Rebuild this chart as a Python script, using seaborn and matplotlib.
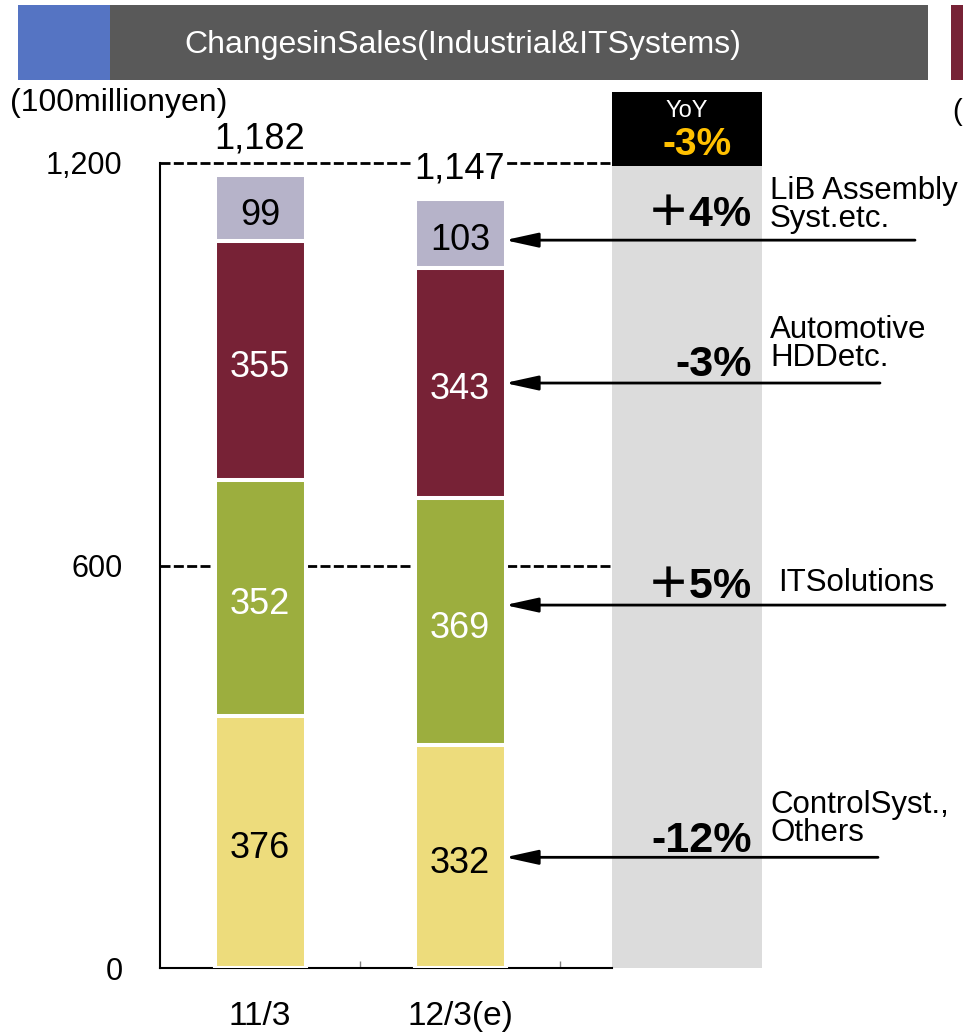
import matplotlib
matplotlib.use("Agg")
import matplotlib.pyplot as plt
from matplotlib.patches import Rectangle
import pandas as pd
import seaborn as sns

# ---- data -------------------------------------------------------------
periods = ["11/3", "12/3(e)"]
control_others = [376, 332]
it_solutions = [352, 369]
automotive_hdd = [355, 343]
lib_assembly = [99, 103]
totals = [1182, 1147]

segment_names = ["ControlSyst.,\nOthers", "ITSolutions",
                 "Automotive\nHDDetc.", "LiB Assembly\nSyst.etc."]
yoy_changes = ["-12%", "＋5%", "-3%", "＋4%"]
yoy_total = "-3%"

ytick_values = [0, 600, 1200]
ytick_labels = ["0", "600", "1,200"]

title = "ChangesinSales(Industrial&ITSystems)"
unit_label = "(100millionyen)"

# ---- styling ----------------------------------------------------------
seg_colors = ["#EDDC7C", "#9CAE3E", "#772236", "#B6B3C9"]
seg_text_colors = ["black", "white", "white", "black"]

sns.set_style("white")
plt.rcParams["font.family"] = ["Liberation Sans", "DejaVu Sans"]
plt.rcParams["text.color"] = "black"
plt.rcParams["xtick.color"] = "black"
plt.rcParams["ytick.color"] = "black"
plt.rcParams["axes.labelcolor"] = "black"

W, H = 963, 1034
fig = plt.figure(figsize=(W / 100, H / 100), dpi=100)

def fx(px):
    return px / W

def fy(py):
    return 1 - py / H

# axes: x from pixel 160 to 960, y from pixel 968 (0) up to pixel 85
ax_left, ax_right, ax_bottom, ax_top = 160, 960, 968, 85
ax = fig.add_axes([fx(ax_left), fy(ax_bottom), fx(ax_right - ax_left),
                   (ax_bottom - ax_top) / H])
px_per_unit = (968 - 163) / 1200.0
ymax = (ax_bottom - ax_top) / px_per_unit

# long-form table for stacked bars (cumulative heights drawn top-down)
layers = [control_others, it_solutions, automotive_hdd, lib_assembly]
rows = []
for k, vals in enumerate(layers):
    for i, p in enumerate(periods):
        lower = sum(layers[j][i] for j in range(k))
        rows.append({"period": p, "segment": k, "value": vals[i],
                     "lower": lower, "upper": lower + vals[i]})
df = pd.DataFrame(rows)

for k in reversed(range(len(layers))):
    sub = df[df["segment"] == k]
    sns.barplot(data=sub, x="period", y="upper", order=periods,
                color=seg_colors[k], saturation=1, width=0.455,
                edgecolor="white", linewidth=2.9, errorbar=None,
                ax=ax, zorder=2)

# segment value labels
for _, r in df.iterrows():
    i = periods.index(r["period"])
    ax.annotate(f"{r['value']:,}", xy=(i, (r["lower"] + r["upper"]) / 2),
                xytext=(0, -5), textcoords="offset points",
                ha="center", va="center", fontsize=26,
                color=seg_text_colors[int(r["segment"])], zorder=5)

# total labels above the bars
for i, t in enumerate(totals):
    ax.annotate(f"{t:,}", xy=(i, t), xytext=(0, 26 if i == 0 else 21),
                textcoords="offset points", ha="center", va="center",
                fontsize=26, zorder=6,
                bbox=dict(boxstyle="square,pad=0.05", fc="white", ec="none"))

ax.set_xlim(-0.5, 3.5)
ax.set_ylim(0, ymax)

# dashed reference lines
ax.hlines(ytick_values[1:], -0.5, 1.76, colors="black", lw=2,
          linestyles=(0, (3.6, 1.2)), zorder=1)

# YoY column
ax.add_patch(Rectangle((1.76, 0), 0.75, 1200, fc="#DCDCDC", ec="none",
                       zorder=0.8))
ax.add_patch(Rectangle((1.76, 1196), 0.75, 110, fc="black", ec="none",
                       zorder=3, clip_on=False))
ax.text(2.135, 1277, "YoY", color="white", fontsize=17, ha="center",
        va="center", zorder=4)
ax.text(2.185, 1227, yoy_total, color="#FFC000", fontsize=28,
        fontweight="bold", ha="center", va="center", zorder=4)

# arrows from the change labels to the forecast bar
arrow_y = [165, 541, 872, 1085]
arrow_start = [3.09, 3.425, 3.1, 3.275]
pct_y = [190, 568, 899, 1122]
name_y = [222, 574, 930, 1137]
name_x = [2.55, 2.59, 2.55, 2.55]
for k in range(4):
    ax.annotate("", xy=(1.225, arrow_y[k]), xytext=(arrow_start[k], arrow_y[k]),
                arrowprops=dict(arrowstyle="-|>,head_length=1.0,head_width=0.22",
                                lw=2, color="black", shrinkA=0, shrinkB=0,
                                mutation_scale=20),
                zorder=4, annotation_clip=False)
    ax.text(2.46, pct_y[k], yoy_changes[k], ha="right", va="center",
            fontsize=31, fontweight="bold", zorder=5,
            family=["Liberation Sans", "Noto Sans CJK JP"])
    ax.text(name_x[k], name_y[k], segment_names[k], ha="left", va="center",
            fontsize=22.5, linespacing=0.92, zorder=5)

# axes decoration
for s in ["top", "right"]:
    ax.spines[s].set_visible(False)
ax.spines["left"].set_bounds(0, 1200)
ax.spines["bottom"].set_bounds(-0.5, 1.76)
for s in ["left", "bottom"]:
    ax.spines[s].set_color("black")
    ax.spines[s].set_linewidth(1.5)
    ax.spines[s].set_zorder(1.5)

ax.set_yticks(ytick_values)
ax.set_yticklabels(ytick_labels, fontsize=22)
ax.tick_params(axis="y", length=0, pad=27)

ax.set_xticks([0, 1])
ax.set_xticklabels(periods, fontsize=24)
ax.tick_params(axis="x", which="major", length=0, pad=24)
ax.set_xticks([0.5, 1.5], minor=True)
ax.tick_params(axis="x", which="minor", direction="in", length=5,
               width=1, color="#808080", bottom=True)
ax.set_xlabel("")
ax.set_ylabel("")

# header band
fig.add_artist(Rectangle((fx(18), fy(80)), fx(92), (80 - 5) / H,
                         transform=fig.transFigure, fc="#5574C3", ec="none"))
fig.add_artist(Rectangle((fx(110), fy(80)), fx(818), (80 - 5) / H,
                         transform=fig.transFigure, fc="#595959", ec="none"))
fig.add_artist(Rectangle((fx(951), fy(80)), fx(12), (80 - 5) / H,
                         transform=fig.transFigure, fc="#772236", ec="none"))
fig.text(fx(463), fy(45), title, color="white", fontsize=23,
         ha="center", va="center")
fig.text(fx(10), fy(103), unit_label, fontsize=23, ha="left", va="center")
fig.text(fx(952), fy(112), "(", fontsize=21, ha="left", va="center")

fig.savefig("out.png", dpi=100)
